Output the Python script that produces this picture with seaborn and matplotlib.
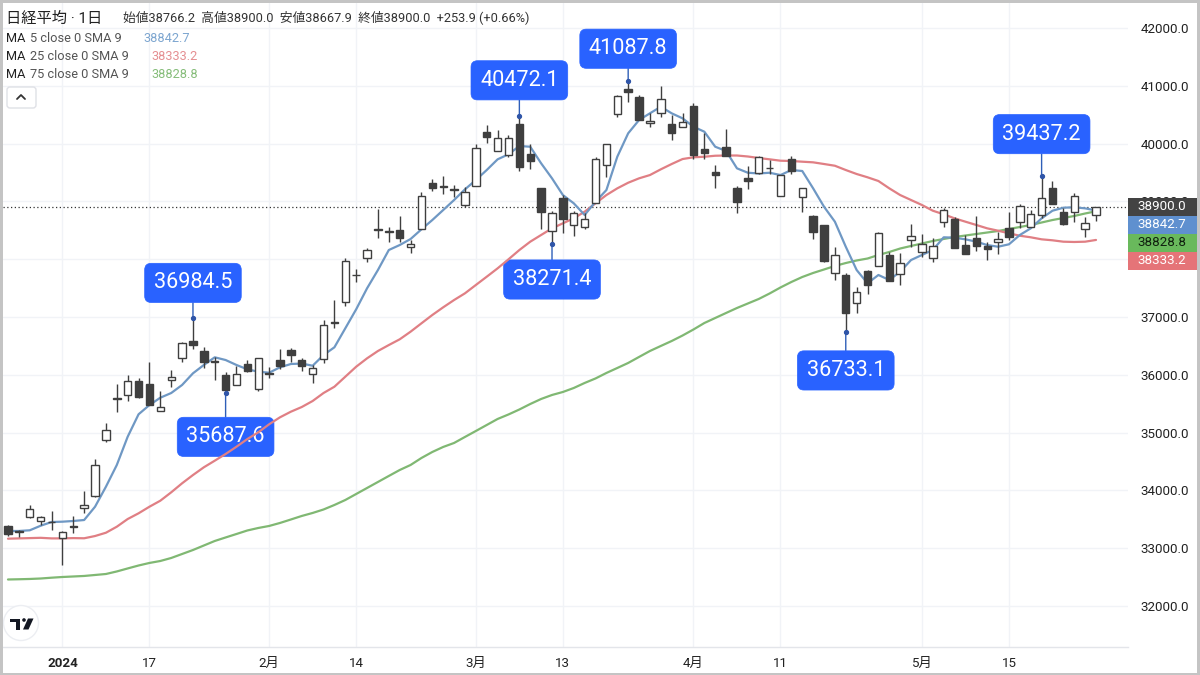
import matplotlib
matplotlib.use("Agg")
import matplotlib.pyplot as plt
from matplotlib.patches import Rectangle, FancyBboxPatch, Circle, Polygon
from matplotlib.transforms import Affine2D
import pandas as pd
import seaborn as sns

# daily candles
opens = [33389, 33306, 33535, 33476, 33460, 33182, 33380, 33701, 33898, 34877,
         35595, 35645, 35898, 35846, 35368, 35915, 36296, 36585, 36417, 36235,
         36002, 35818, 36195, 35746, 36030, 36251, 36424, 36251, 36009, 36268,
         36915, 37254, 37735, 38026, 38518, 38484, 38505, 38206, 38517, 39318,
         39262, 39210, 38943, 39261, 40200, 39877, 39803, 40339, 39815, 39237,
         38482, 39054, 38597, 38552, 38967, 39624, 40517, 40949, 40801, 40351,
         40534, 40334, 40282, 40655, 39901, 39508, 39936, 39237, 39399, 39496,
         39586, 39093, 39733, 39071, 38747, 38586, 37756, 37721, 37237, 37796,
         37882, 38067, 37739, 38327, 38119, 38015, 38638, 38690, 38240, 38361,
         38220, 38292, 38534, 38649, 38562, 38770, 39232, 38811, 38811, 38517, 38766.2]
closes = [33246, 33289, 33673, 33535, 33445, 33286, 33365, 33753, 34434, 35040,
          35580, 35898, 35621, 35483, 35448, 35957, 36545, 36516, 36221, 36220,
          35742, 36019, 36071, 36285, 36015, 36152, 36342, 36157, 36112, 36856,
          36900, 37964, 37720, 38154, 38502, 38468, 38361, 38258, 39098, 39237,
          39246, 39194, 39168, 39918, 40119, 40102, 40091, 39600, 39704, 38822,
          38799, 38700, 38804, 38700, 39738, 39998, 40818, 40897, 40413, 40396,
          40766, 40178, 40368, 39808, 39842, 39465, 39790, 38995, 39347, 39773,
          39570, 39451, 39531, 39232, 38476, 37963, 38078, 37074, 37437, 37554,
          38458, 37628, 37929, 38401, 38268, 38233, 38846, 38199, 38085, 38233,
          38185, 38355, 38389, 38920, 38777, 39064, 38955, 38609, 39098, 38631, 38900]
highs = [33402, 33315, 33747, 33557, 33644, 33290, 33557, 33990, 34543, 35166,
         35841, 35997, 35950, 36227, 35725, 36083, 36572, 36984.5, 36476, 36308,
         36054, 36152, 36256, 36291, 36140, 36441, 36458, 36285, 36170, 36948,
         37294, 38015, 37830, 38188, 38868, 38562, 38747, 38332, 39157, 39387,
         39439, 39283, 39249, 39988, 40322, 40235, 40148, 40472.1, 39988, 39240,
         38839, 39110, 38839, 38794, 39773, 40000, 40840, 41087.8, 40840, 40524,
         40996, 40494, 40524, 40707, 40178, 39629, 40247, 39271, 39617, 39790,
         39716, 39460, 39785, 39240, 38764, 38590, 38216, 37756, 37524, 37813,
         38465, 38130, 38102, 38609, 38436, 38361, 38880, 38735, 38418, 38747,
         38303, 38476, 38822, 38955, 38851, 39437.2, 39353, 38880, 39140, 38735, 38900]
lows = [33211, 33194, 33520, 33402, 33315, 32709, 33263, 33609, 33886, 34843,
        35356, 35552, 35604, 35478, 35368, 35794, 36227, 36446, 36112, 35910,
        35687.6, 35818, 36054, 35720, 35939, 36095, 36227, 36071, 35863, 36199,
        36815, 37190, 37611, 37946, 38372, 38303, 38303, 38102, 38517, 39185,
        39123, 39081, 38898, 39261, 40015, 39877, 39773, 39531, 39560, 38517,
        38271.4, 38458, 38406, 38522, 38967, 39427, 40465, 40725, 40408, 40292,
        40465, 40062, 40282, 39728, 39728, 39226, 39790, 38794, 39209, 39480,
        39474, 39085, 39474, 38822, 38344, 37958, 37640, 36733.1, 37064, 37398,
        37875, 37628, 37553, 38206, 38033, 37957, 38552, 38199, 38085, 38147,
        37986, 38090, 38332, 38534, 38562, 38707, 38955, 38600, 38638, 38379, 38667.9]

ma5 = [33298, 33298, 33310, 33389, 33453, 33459, 33471, 33488, 33718, 34064,
       34440, 34929, 35317, 35477, 35604, 35685, 35824, 36026, 36170, 36303,
       36256, 36170, 36095, 36054, 36036, 36130, 36187, 36195, 36157, 36342,
       36476, 36804, 37133, 37496, 37813, 38159, 38245, 38349, 38517, 38678,
       38851, 39024, 39209, 39370, 39543, 39728, 39815, 39958, 39946, 39659,
       39399, 39110, 38967, 38765, 38995, 39197, 39773, 40178, 40408, 40524,
       40638, 40524, 40437, 40292, 40206, 39946, 39872, 39572, 39496, 39483,
       39496, 39456, 39543, 39526, 39226, 38908, 38649, 38216, 37813, 37583,
       37727, 37640, 37784, 37986, 38073, 38159, 38379, 38372, 38344, 38303,
       38245, 38216, 38258, 38419, 38534, 38707, 38839, 38891, 38898, 38880, 38842.7]
ma25 = [33165, 33170, 33175, 33180, 33170, 33170, 33175, 33172, 33211, 33268,
        33372, 33505, 33604, 33718, 33822, 33967, 34123, 34266, 34400, 34514,
        34630, 34756, 34889, 35005, 35144, 35265, 35362, 35443, 35547, 35685,
        35794, 35967, 36140, 36285, 36412, 36515, 36614, 36746, 36891, 37035,
        37168, 37294, 37410, 37554, 37697, 37842, 37998, 38159, 38303, 38419,
        38534, 38621, 38707, 38822, 38967, 39110, 39226, 39323, 39399, 39456,
        39555, 39647, 39733, 39763, 39773, 39790, 39794, 39794, 39777, 39751,
        39728, 39704, 39699, 39687, 39676, 39647, 39617, 39543, 39474, 39417,
        39353, 39226, 39110, 39024, 38938, 38839, 38777, 38707, 38649, 38592,
        38534, 38493, 38448, 38406, 38379, 38344, 38327, 38303, 38298, 38303, 38333.2]
ma75 = [32459, 32463, 32468, 32476, 32490, 32502, 32511, 32520, 32537, 32554,
        32598, 32650, 32701, 32745, 32779, 32831, 32900, 32969, 33047, 33125,
        33186, 33246, 33307, 33350, 33385, 33437, 33497, 33558, 33610, 33670,
        33748, 33834, 33938, 34042, 34146, 34250, 34353, 34440, 34561, 34665,
        34752, 34821, 34925, 35028, 35132, 35236, 35314, 35400, 35495, 35582,
        35651, 35703, 35772, 35859, 35937, 36032, 36118, 36205, 36309, 36412,
        36499, 36585, 36680, 36784, 36896, 36983, 37070, 37156, 37234, 37312,
        37407, 37511, 37606, 37692, 37762, 37822, 37883, 37934, 37978, 38012,
        38073, 38125, 38185, 38229, 38272, 38315, 38350, 38384, 38410, 38436,
        38462, 38488, 38523, 38557, 38592, 38635, 38678, 38713, 38748, 38791, 38828.8]

price_ticks = [32000, 33000, 34000, 35000, 36000, 37000, 38000, 39000, 40000, 41000, 42000]
date_pos = [5, 13, 24, 32, 43, 51, 63, 71, 84, 92]
date_labels = ["2024", "17", "2月", "14", "3月", "13", "4月", "11", "5月", "15"]

# highs and lows picked out with a callout: candle index, price, label offset in px
callout_idx = [17, 20, 47, 50, 57, 77, 95]
callout_val = [36984.5, 35687.6, 40472.1, 38271.4, 41087.8, 36733.1, 39437.2]
callout_off = [35, -44, 36, -36, 32, -38, 42]

last_price = 38900.0
tag_text = ["38900.0", "38842.7", "38828.8", "38333.2"]
tag_fill = ["#434343", "#5f90cf", "#69b95c", "#e57478"]
tag_ink = ["#ffffff", "#ffffff", "#10200f", "#ffffff"]

BLUE, RED, GREEN = "#6f98c4", "#e07f84", "#80b873"
DARK = "#3f3f3f"
GRID = "#f1f3f7"
CALLOUT = "#2962ff"

sns.set_theme(style="white")
plt.rcParams["font.family"] = ["Roboto", "Noto Sans CJK JP", "DejaVu Sans"]

fig = plt.figure(figsize=(12, 6.75), dpi=100)
ax = fig.add_axes([3 / 1200, 1 - 647 / 675, 1125 / 1200, 644 / 675])
ax.set_xlim(-0.46, 102.94)
ax.set_ylim(31291, 42432.5)

# screen px, origin top left, for the chrome around the plot
px = Affine2D().scale(1, -1).translate(0, 675)

ax.set_yticks(price_ticks)
ax.set_yticklabels([f"{p:.1f}" for p in price_ticks])
ax.yaxis.tick_right()
ax.set_xticks(date_pos)
ax.set_xticklabels(date_labels)
ax.tick_params(axis="y", length=0, pad=9, labelsize=9.6, labelcolor="#222222")
ax.tick_params(axis="x", length=0, pad=7, labelsize=9.6, labelcolor="#222222")
ax.get_xticklabels()[0].set_fontweight("bold")
ax.grid(True, color=GRID, lw=1)
ax.set_axisbelow(True)
for name in ["top", "left", "right"]:
    ax.spines[name].set_visible(False)
ax.spines["bottom"].set_color("#e3e5ea")
ax.spines["bottom"].set_linewidth(1)

ax.axhline(last_price, color="#333333", lw=0.9, ls=(0, (1, 2)), zorder=2)

# moving averages
days = list(range(len(closes)))
for values, color in zip([ma75, ma25, ma5], [GREEN, RED, BLUE]):
    frame = pd.DataFrame({"day": days, "ma": values})
    sns.lineplot(data=frame, x="day", y="ma", color=color, lw=1.6, estimator=None,
                 sort=False, ax=ax, zorder=4)
ax.set_xlabel("")
ax.set_ylabel("")

# candles
ax.vlines(days, lows, highs, color=DARK, lw=1.0, zorder=5)
for d, o, c in zip(days, opens, closes):
    up = c > o
    ax.bar(d, abs(c - o), bottom=min(o, c), width=0.68,
           facecolor="white" if up else DARK, edgecolor=DARK, lw=1.0, zorder=6)

# callouts
for d, v, off in zip(callout_idx, callout_val, callout_off):
    ax.plot([d], [v], "o", ms=2.8, color="#2f55a8", zorder=7)
    ax.annotate(f"{v:.1f}", xy=(d, v), xytext=(0, off), textcoords="offset pixels",
                ha="center", va="center", fontsize=15.6, color="white", zorder=3,
                bbox=dict(boxstyle="round,pad=0.42,rounding_size=0.3", fc=CALLOUT, ec=CALLOUT, lw=0.5),
                arrowprops=dict(arrowstyle="-", color="#2f5fb8", lw=1.0, shrinkA=0, shrinkB=0))

# price tags on the right
for n, (label, fill, ink) in enumerate(zip(tag_text, tag_fill, tag_ink)):
    top = 198 + n * 18
    fig.add_artist(Rectangle((1128, top), 68.5, 18, transform=px, fc=fill, ec="none", zorder=6))
    fig.text(1137, top + 9, label, transform=px, color=ink, fontsize=9.6, va="center", zorder=7)

# header
fig.text(6, 18.5, "日経平均 · 1日", transform=px, fontsize=11, color="#222222", va="center")
fig.text(123, 18.5, "始値38766.2  高値38900.0  安値38667.9  終値38900.0  +253.9 (+0.66%)",
         transform=px, fontsize=9.2, color="#333333", va="center")
ma_rows = ["5 close 0 SMA 9", "25 close 0 SMA 9", "75 close 0 SMA 9"]
ma_last = ["38842.7", "38333.2", "38828.8"]
ma_ink = ["#7da6d0", "#e58f92", "#86bd7a"]
ma_x = [143, 151, 151]
for n, row in enumerate(ma_rows):
    y = 39 + n * 18
    fig.text(6, y, "MA", transform=px, fontsize=9.2, color="#222222", va="center")
    fig.text(30, y, row, transform=px, fontsize=9.2, color="#555555", va="center")
    fig.text(ma_x[n], y, ma_last[n], transform=px, fontsize=9.2, color=ma_ink[n], va="center")

fig.add_artist(FancyBboxPatch((7, 87), 29, 21, boxstyle="round,pad=0,rounding_size=3", transform=px,
                              fc="white", ec="#dfe1e6", lw=1))
fig.add_artist(plt.Line2D([17, 21, 25], [99, 95, 99], transform=px, color="#333333", lw=1.3))

# logo badge
fig.add_artist(Circle((21, 623), 17.5, transform=px, fc="white", ec="#eceef2", lw=1))
fig.add_artist(Rectangle((10, 618.5), 10, 3.5, transform=px, fc="#131722", ec="none"))
fig.add_artist(Rectangle((15.5, 618.5), 4.5, 11, transform=px, fc="#131722", ec="none"))
fig.add_artist(Circle((24, 620), 1.8, transform=px, fc="#131722", ec="none"))
fig.add_artist(Polygon([(28, 618.5), (33.5, 618.5), (28.5, 629.5), (23, 629.5)], transform=px,
                       fc="#131722", ec="none"))

# screenshot frame
for box in [(0, 0, 3, 675), (0, 0, 1200, 3), (1197, 0, 3, 675), (0, 673, 1200, 2)]:
    fig.add_artist(Rectangle(box[:2], box[2], box[3], transform=px, fc="#c4c4c4", ec="none", zorder=10))

fig.savefig("out.png", dpi=100, facecolor="white")
